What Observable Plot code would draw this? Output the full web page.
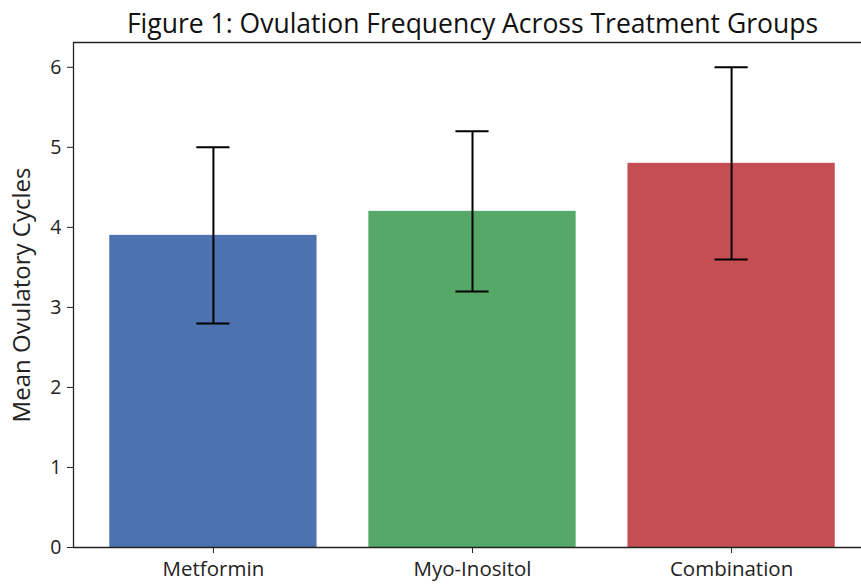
<!DOCTYPE html>
<html>
<head>
<meta charset="utf-8">
<script src="https://cdn.jsdelivr.net/npm/d3@7"></script>
<script src="https://cdn.jsdelivr.net/npm/@observablehq/plot@0.6"></script>
<style>
  html, body { margin: 0; padding: 0; background: #fff; }
  #chart svg { display: block; }
  #chart g[aria-label="y-axis tick label"], #chart g[aria-label="y-axis tick label"] text { font-size: 19.5px; }
  #chart g[aria-label="x-axis tick label"], #chart g[aria-label="x-axis tick label"] text { font-size: 20.5px; }
</style>
</head>
<body>
<div id="chart"></div>
<script>
const titleText = "Figure 1: Ovulation Frequency Across Treatment Groups";
const yLabel = "Mean Ovulatory Cycles";
const groups = ["Metformin", "Myo-Inositol", "Combination"];
const means = [3.9, 4.2, 4.8];
const errors = [1.1, 1.0, 1.2];
const colors = ["#4c72b0", "#55a868", "#c44e52"];
const yTicks = [0, 1, 2, 3, 4, 5, 6];

const barHalf = 0.4;
const capHalf = 0.064;
const xMin = -0.54, xMax = 2.54;
const yMax = 6.31;

const data = groups.map((g, i) => ({
  i, group: g, mean: means[i], err: errors[i], color: colors[i]
}));

const fontFamily = "'Open Sans', 'Noto Sans', 'DejaVu Sans', sans-serif";

const chart = Plot.plot({
  width: 861,
  height: 584,
  marginLeft: 73,
  marginTop: 42,
  marginBottom: 37,
  marginRight: 0,
  style: { fontFamily, fontSize: "20px", color: "#222", background: "#fff" },
  x: { type: "linear", domain: [xMin, xMax], range: [73, 871] },
  y: { domain: [0, yMax] },
  marks: [
    Plot.rectY(data, {
      x1: d => d.i - barHalf,
      x2: d => d.i + barHalf,
      y1: 0,
      y2: "mean",
      fill: d => d.color
    }),
    Plot.ruleX(data, {
      x: "i",
      y1: d => d.mean - d.err,
      y2: d => d.mean + d.err,
      stroke: "#000",
      strokeWidth: 2
    }),
    Plot.ruleY(data, {
      y: d => d.mean + d.err,
      x1: d => d.i - capHalf,
      x2: d => d.i + capHalf,
      stroke: "#000",
      strokeWidth: 2
    }),
    Plot.ruleY(data, {
      y: d => d.mean - d.err,
      x1: d => d.i - capHalf,
      x2: d => d.i + capHalf,
      stroke: "#000",
      strokeWidth: 2
    }),
    Plot.ruleY([0, yMax], { x1: xMin, x2: xMax, stroke: "#222", strokeWidth: 1.3 }),
    Plot.ruleX([xMin], { y1: 0, y2: yMax, stroke: "#222", strokeWidth: 1.3 }),
    Plot.axisY({
      ticks: yTicks,
      tickFormat: d3.format("d"),
      tickSize: 6,
      tickPadding: 6,
      stroke: "#222",
      fill: "#222",
      label: null
    }),
    Plot.axisX({
      ticks: [0, 1, 2],
      tickFormat: i => groups[i],
      tickSize: 6,
      tickPadding: 8,
      stroke: "#222",
      fill: "#222",
      label: null
    }),
    Plot.text([yLabel], {
      frameAnchor: "left",
      textAnchor: "middle",
      dx: -51,
      rotate: -90,
      fontSize: 24,
      fill: "#222"
    }),
    Plot.text([titleText], {
      frameAnchor: "top",
      dx: 5,
      dy: -10,
      lineAnchor: "bottom",
      fontSize: 26.5,
      fill: "#111"
    })
  ]
});

document.getElementById("chart").appendChild(chart);
</script>
</body>
</html>
